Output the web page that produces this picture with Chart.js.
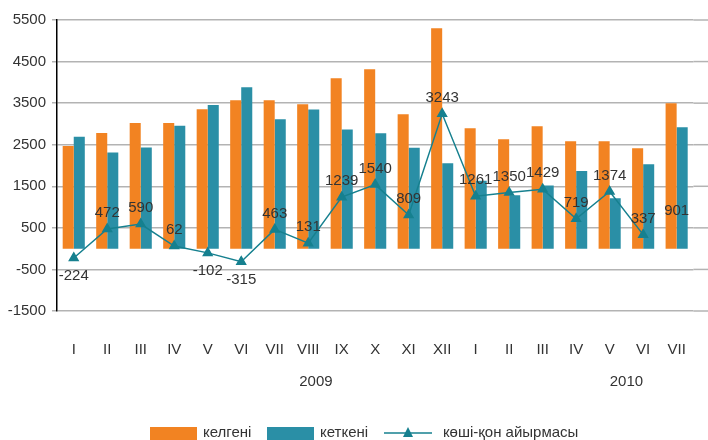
<!DOCTYPE html>
<html>
<head>
<meta charset="utf-8">
<script src="https://cdn.jsdelivr.net/npm/chart.js@4"></script>
<style>
  html, body { margin: 0; padding: 0; background: #fff; }
  #wrap { width: 708px; height: 440px; position: relative; }
</style>
</head>
<body>
<div id="wrap"><canvas id="myChart"></canvas></div>
<script>
// month labels (2009 I..XII, 2010 I..VII)
const months = ['I','II','III','IV','V','VI','VII','VIII','IX','X','XI','XII','I','II','III','IV','V','VI','VII'];
const years = ['2009', '2010'];

const arrived = [2470, 2780, 3020, 3020, 3355, 3570, 3570, 3475, 4100, 4315, 3235, 5300, 2895, 2630, 2945, 2585, 2585, 2415, 3500];
const departed = [2690, 2310, 2430, 2955, 3455, 3885, 3110, 3345, 2865, 2775, 2425, 2055, 1635, 1285, 1520, 1865, 1215, 2030, 2920];
const netMigration = [-224, 472, 590, 62, -102, -315, 463, 131, 1239, 1540, 809, 3243, 1261, 1350, 1429, 719, 1374, 337, 901];

const seriesNames = ['келгені', 'кеткені', 'көші-қон айырмасы'];

const ORANGE = '#f28322';
const TEAL = '#2a8fa6';
const LINE = '#16808f';
const FONT = 'Liberation Sans, Arial, sans-serif';

// last net point is shown only as a number in the source, no marker or segment
const lastIdx = netMigration.length - 1;

// grid lines in the source run right to the edge of the picture
const gridExtend = {
    id: 'gridExtend',
    beforeDatasetsDraw(chart) {
        const ctx = chart.ctx;
        const y = chart.scales.y;
        ctx.save();
        ctx.strokeStyle = '#b3b3b3';
        ctx.lineWidth = 1.5;
        y.ticks.forEach(t => {
            const py = y.getPixelForValue(t.value);
            ctx.beginPath();
            ctx.moveTo(chart.chartArea.right, py);
            ctx.lineTo(chart.width, py);
            ctx.stroke();
        });
        ctx.restore();
    }
};

const netLabels = {
    id: 'netLabels',
    afterDatasetsDraw(chart) {
        const ctx = chart.ctx;
        const meta = chart.getDatasetMeta(0);
        ctx.save();
        ctx.font = '15px ' + FONT;
        ctx.fillStyle = '#333';
        ctx.textAlign = 'center';
        ctx.textBaseline = 'middle';
        meta.data.forEach((pt, i) => {
            const v = netMigration[i];
            let y = pt.y;
            if (i !== lastIdx) y += v < 0 ? 18 : -16;
            ctx.fillText(String(v), pt.x, y);
        });
        ctx.restore();
    }
};

const extras = {
    id: 'extras',
    afterDraw(chart) {
        const ctx = chart.ctx;
        const x = chart.scales.x;
        ctx.save();
        ctx.font = '15px ' + FONT;
        ctx.fillStyle = '#333';
        ctx.textAlign = 'center';
        ctx.textBaseline = 'middle';
        ctx.fillText(years[0], x.getPixelForValue(7.23), 382);
        ctx.fillText(years[1], x.getPixelForValue(16.5), 382);

        // legend
        const ly = 433;
        ctx.textAlign = 'left';
        ctx.fillStyle = ORANGE;
        ctx.fillRect(150, ly - 6, 47, 13);
        ctx.fillStyle = TEAL;
        ctx.fillRect(267, ly - 6, 47, 13);
        ctx.strokeStyle = LINE;
        ctx.lineWidth = 1.5;
        ctx.beginPath();
        ctx.moveTo(384, ly);
        ctx.lineTo(432, ly);
        ctx.stroke();
        ctx.fillStyle = LINE;
        ctx.beginPath();
        ctx.moveTo(408, ly - 6);
        ctx.lineTo(403, ly + 4);
        ctx.lineTo(413, ly + 4);
        ctx.closePath();
        ctx.fill();
        ctx.fillStyle = '#333';
        ctx.fillText(seriesNames[0], 203, ly);
        ctx.fillText(seriesNames[1], 320, ly);
        ctx.fillText(seriesNames[2], 443, ly);
        ctx.restore();
    }
};

drawChart();

function drawChart() {
    var myChart = document.getElementById('myChart').getContext('2d');
    new Chart(myChart, {
        data: {
            labels: months,
            datasets: [{
                type: 'line',
                label: seriesNames[2],
                data: netMigration,
                borderColor: LINE,
                backgroundColor: LINE,
                borderWidth: 1.5,
                pointStyle: 'triangle',
                pointRadius: ctx => ctx.dataIndex === lastIdx ? 0 : 5,
                pointHoverRadius: 0,
                segment: {
                    borderColor: ctx => ctx.p1DataIndex === lastIdx ? 'transparent' : LINE
                },
                order: 0
            }, {
                type: 'bar',
                label: seriesNames[0],
                data: arrived,
                backgroundColor: ORANGE,
                categoryPercentage: 0.66,
                barPercentage: 1,
                order: 1
            }, {
                type: 'bar',
                label: seriesNames[1],
                data: departed,
                backgroundColor: TEAL,
                categoryPercentage: 0.66,
                barPercentage: 1,
                order: 1
            }]
        },
        options: {
            responsive: true,
            maintainAspectRatio: false,
            animation: false,
            layout: { padding: { top: 20, right: 7, left: 0, bottom: 0 } },
            plugins: {
                legend: { display: false },
                tooltip: { enabled: false }
            },
            scales: {
                x: {
                    grid: { display: false },
                    border: { display: false },
                    ticks: { color: '#333', font: { family: FONT, size: 15 }, padding: 22, maxRotation: 0 },
                    afterFit: s => { s.height = 129; }
                },
                y: {
                    min: -1500,
                    max: 5500,
                    ticks: {
                        stepSize: 1000,
                        color: '#333',
                        font: { family: FONT, size: 15 },
                        padding: 6,
                        callback: v => String(v)
                    },
                    grid: { color: '#b3b3b3', lineWidth: 1.5, tickLength: 5 },
                    border: { color: '#000', width: 1.5 },
                    afterFit: s => { s.width = 57; }
                }
            }
        },
        plugins: [gridExtend, netLabels, extras]
    });
}
</script>
</body>
</html>
